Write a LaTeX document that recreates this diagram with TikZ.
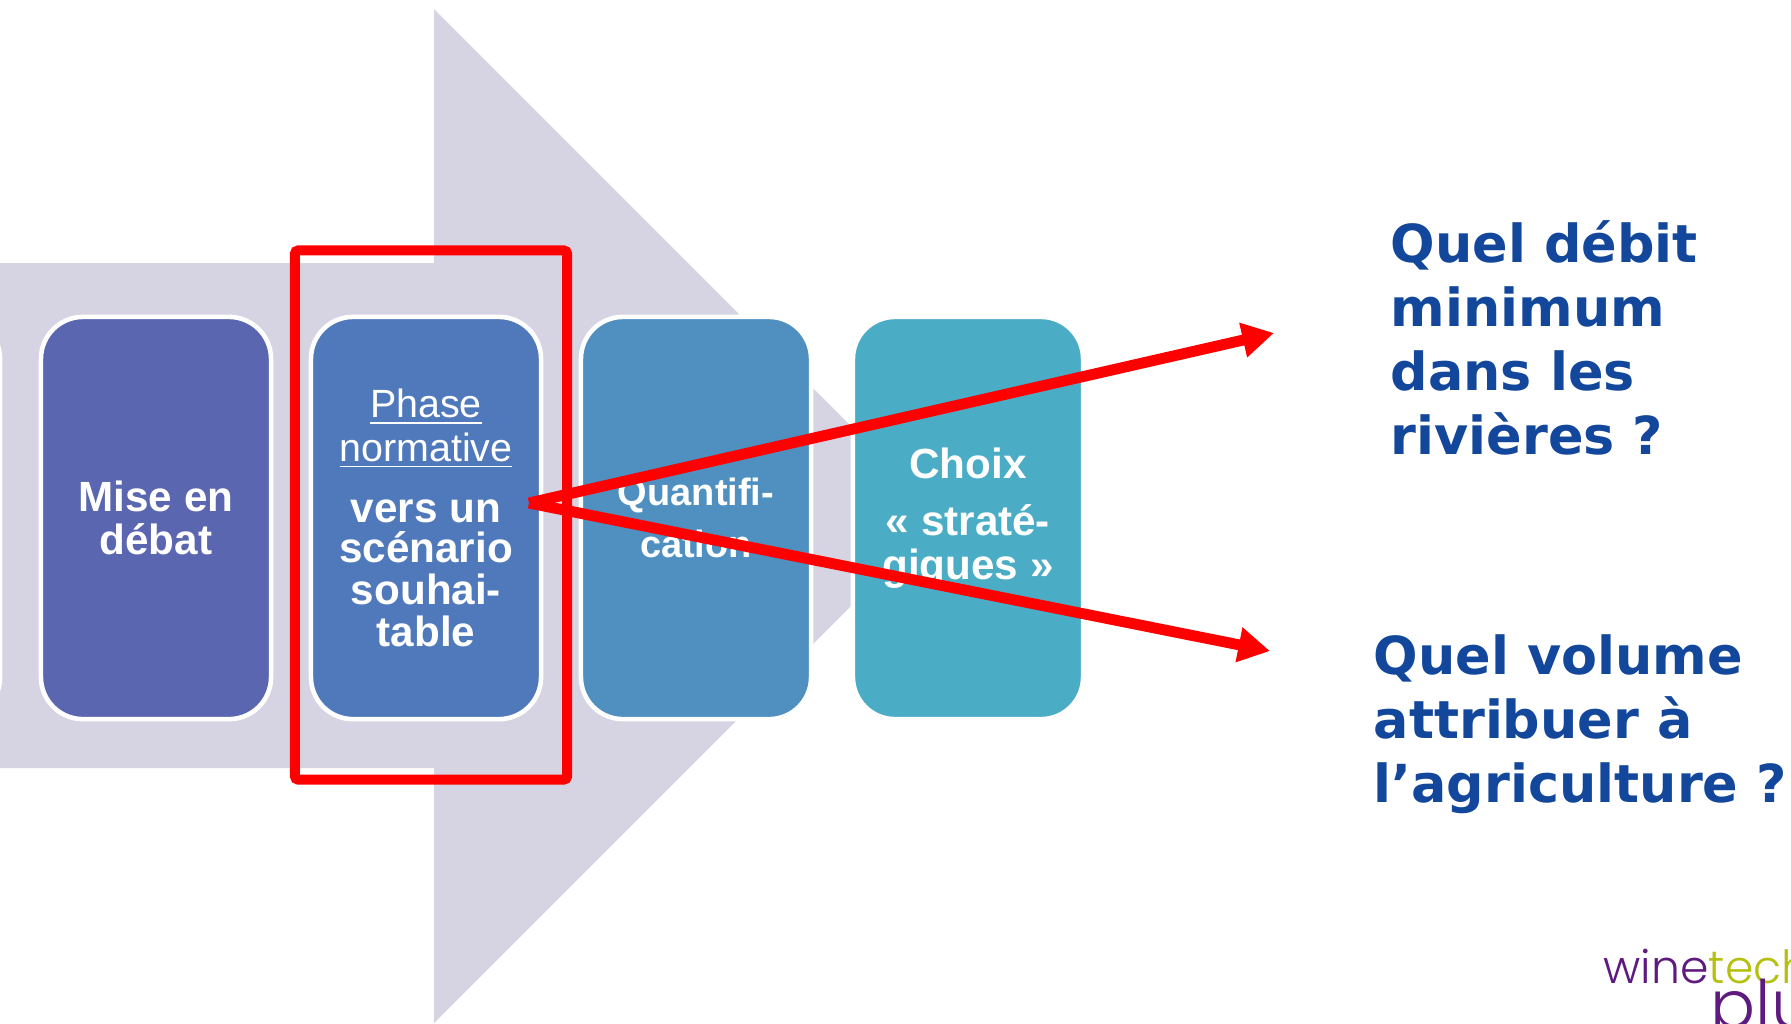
\documentclass[tikz,border=0pt]{standalone}
\usepackage{fontspec}
\setmainfont{Liberation Sans}
\newfontfamily\questionfont{DejaVu Sans}
\newfontfamily\logofont{Poppins Light}
\usetikzlibrary{arrows.meta}
\definecolor{bandgrey}{HTML}{D6D4E2}
\definecolor{miseblue}{HTML}{5A67B0}
\definecolor{phaseblue}{HTML}{5079BB}
\definecolor{quantblue}{HTML}{4F90C0}
\definecolor{choixblue}{HTML}{4BACC6}
\definecolor{questionblue}{HTML}{12479B}
\definecolor{logopurple}{HTML}{5E1A7E}
\definecolor{logogreen}{HTML}{B5BF10}
\newcommand{\phasefont}{\mdseries\fontsize{11.2}{12.4}\selectfont}
\newcommand{\quantfont}{\fontsize{10.8}{12.4}\selectfont}
\tikzset{
  stepbox/.style={draw=white,line width=1.3pt,rounded corners=0.42cm,minimum width=2.3cm,
    minimum height=4.02cm,inner sep=0pt,text=white,align=center,font=\bfseries\fontsize{12}{12.4}\selectfont},
  question/.style={anchor=west,inner sep=0pt,align=left,text=questionblue,
    font=\questionfont\bfseries\fontsize{14.9}{18.2}\selectfont},
  redline/.style={draw=red,line width=3.1pt,-{Triangle[length=9pt,width=9.5pt]}}
}
\begin{document}
\begin{tikzpicture}[x=0.01cm,y=0.01cm]
\useasboundingbox (0,-1023) rectangle (1791,0);
\fill [bandgrey] (0,-263) -- (434,-263) -- (434,-9) -- (941,-516) -- (434,-1023) -- (434,-768) -- (0,-768) -- cycle;
\node [stepbox,fill=miseblue] (before) at (-115,-518) {};
\node [stepbox,fill=miseblue] (mise) at (156,-518) {Mise en\\d\'ebat};
\node [stepbox,fill=phaseblue] (phase) at (426,-518) {\phasefont\underline{Phase}\\\phasefont\underline{normative}\\[5pt]vers un\\[-1pt]sc\'enario\\[-0.6pt]souhai-\\[-0.4pt]table};
\node [stepbox,fill=quantblue] (quant) at (696,-518) {\quantfont Quantifi-\\[2.5pt]\quantfont cation};
\node [stepbox,fill=choixblue] (choix) at (968,-518) {Choix\\[4pt]\guillemotleft{} strat\'e-\\gigues \guillemotright};
\node [draw=red,line width=2.85pt,rounded corners=1pt,minimum width=2.72cm,minimum height=5.29cm,inner sep=0pt] (focus) at (431,-515) {};
\coordinate (origin) at (529,-503);
\coordinate (tipup) at (1274,-333);
\coordinate (tipdown) at (1270,-651);
\draw [redline] (origin) -- (tipup);
\draw [redline] (origin) -- (tipdown);
\node [question] (flow) at (1390,-338) {Quel d\'ebit\\minimum\\dans les\\rivi\`eres ?};
\node [question] (volume) at (1373,-724) {Quel volume\\attribuer \`a\\l’agriculture ?};
\begin{scope}
\clip (0,-1023) rectangle (1791,0);
\node [anchor=base west,inner sep=0pt,font=\logofont\fontsize{13}{13}\selectfont] (wine) at (1603,-983) {\textcolor{logopurple}{wine}\textcolor{logogreen}{tech}};
\node [anchor=base west,inner sep=0pt,text=logopurple,font=\logofont\fontsize{19}{19}\selectfont] (plus) at (1710,-1028) {plus};
\end{scope}
\end{tikzpicture}
\end{document}
